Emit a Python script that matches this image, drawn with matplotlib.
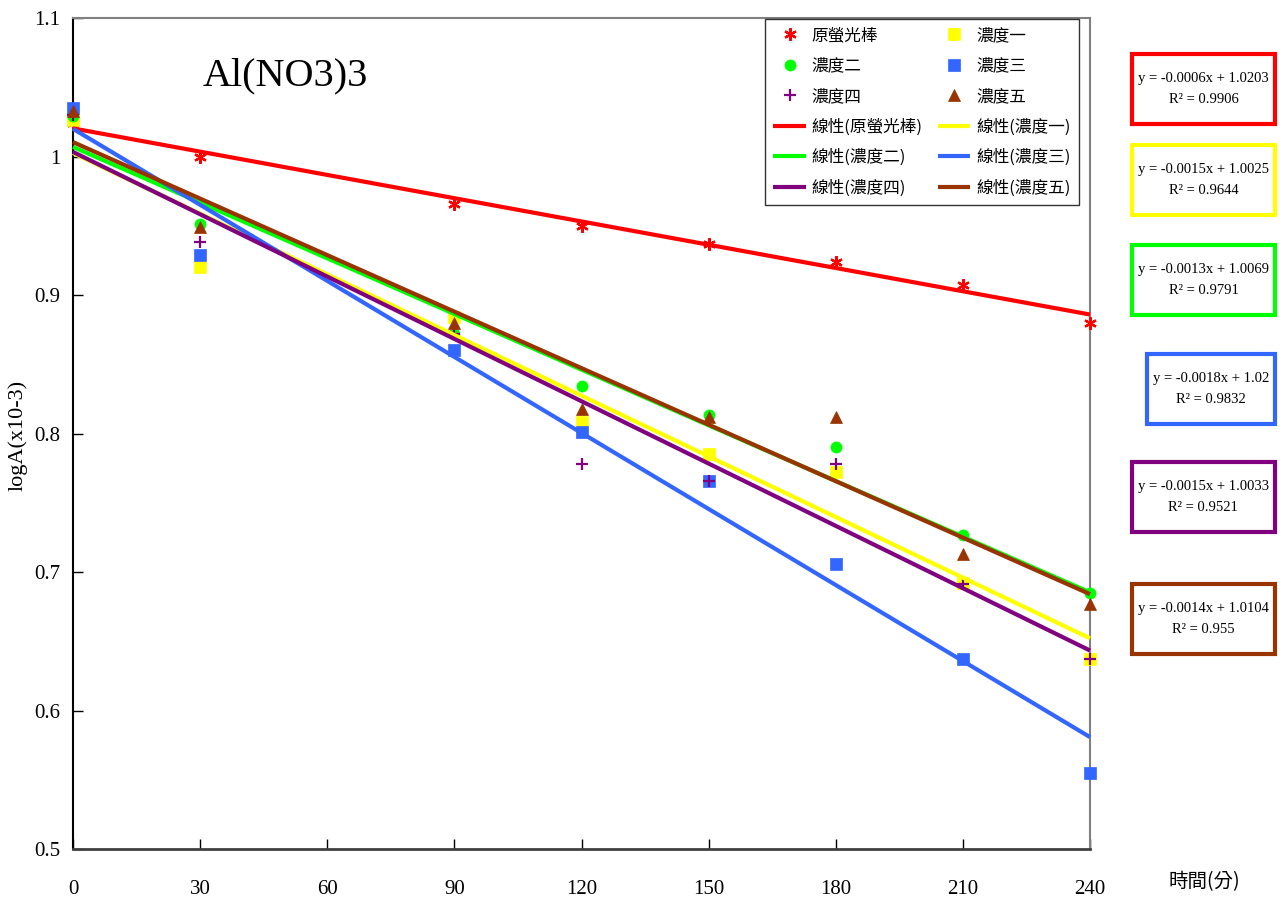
import matplotlib
matplotlib.use("Agg")
import matplotlib.pyplot as plt
from matplotlib.patches import Rectangle
from matplotlib.ticker import FuncFormatter

# Sampling times (minutes)
minutes = [0, 30, 90, 120, 150, 180, 210, 240]

# logA readings for each sample
orig_stick = [1.024, 1.000, 0.966, 0.950, 0.937, 0.924, 0.907, 0.880]
conc_1 = [1.026, 0.920, 0.884, 0.808, 0.785, 0.772, 0.692, 0.637]
conc_2 = [1.029, 0.951, 0.872, 0.834, 0.813, 0.790, 0.727, 0.685]
conc_3 = [1.035, 0.929, 0.860, 0.801, 0.766, 0.706, 0.637, 0.555]
conc_4 = [1.030, 0.938, 0.872, 0.778, 0.766, 0.778, 0.691, 0.637]
conc_5 = [1.033, 0.949, 0.880, 0.818, 0.812, 0.812, 0.713, 0.677]

series_names = ["原螢光棒", "濃度一", "濃度二", "濃度三", "濃度四", "濃度五"]
series_values = [orig_stick, conc_1, conc_2, conc_3, conc_4, conc_5]
colors = ["#FF0000", "#FFFF00", "#00FF00", "#3366FF", "#800080", "#993300"]
markers = [(6, 2, 0), "s", "o", "s", "+", "^"]
marker_sizes = [9, 8, 8, 8, 9, 8]

# Linear trend lines (slope, intercept, R^2)
slopes = [-0.00056, -0.00146, -0.00134, -0.00183, -0.0015, -0.00136]
intercepts = [1.0203, 1.0025, 1.0069, 1.02, 1.0033, 1.0104]
r_squared = [0.9906, 0.9644, 0.9791, 0.9832, 0.9521, 0.955]

x_ticks = [0, 30, 60, 90, 120, 150, 180, 210, 240]
y_ticks = [0.5, 0.6, 0.7, 0.8, 0.9, 1.0, 1.1]

W, H = 1287, 897
fig = plt.figure(figsize=(W / 100, H / 100), dpi=100)
fig.patch.set_facecolor("white")

L, R, T, B = 73, 1090, 18, 849
ax = fig.add_axes([L / W, 1 - B / H, (R - L) / W, (B - T) / H])

serif = "Liberation Serif"
cjk = ["Noto Sans CJK TC", "DejaVu Sans"]


def fmt(v):
    return f"{v:.4f}".rstrip("0").rstrip(".")


handles = []
for name, vals, c, m, ms in zip(series_names, series_values, colors, markers, marker_sizes):
    mew = 1.6 if m in ("+", (6, 2, 0)) else 0.5
    h, = ax.plot(minutes, vals, linestyle="none", marker=m, markersize=ms,
                 color=c, markeredgecolor=c, markeredgewidth=mew, zorder=3,
                 clip_on=False, label=name)
    handles.append(h)

x0, x1 = minutes[0], minutes[-1]
for name, c, a, b in zip(series_names, colors, slopes, intercepts):
    h, = ax.plot([x0, x1], [a * x0 + b, a * x1 + b], color=c, linewidth=3,
                 solid_capstyle="butt", zorder=4, clip_on=False,
                 label=f"線性({name})")
    handles.append(h)

ax.set_xlim(0, 240)
ax.set_ylim(0.5, 1.1)
ax.set_xticks(x_ticks)
ax.set_yticks(y_ticks)
ax.yaxis.set_major_formatter(FuncFormatter(lambda v, p: f"{v:g}"))
ax.tick_params(axis="both", direction="in", length=7, width=1, colors="black",
               labelsize=15)
ax.tick_params(axis="x", pad=22)
ax.tick_params(axis="y", pad=9)
for lab in ax.get_xticklabels() + ax.get_yticklabels():
    lab.set_fontfamily(serif)

ax.spines["left"].set_color("black")
ax.spines["left"].set_linewidth(1.5)
ax.spines["bottom"].set_color("#404040")
ax.spines["bottom"].set_linewidth(2)
ax.spines["top"].set_color("#808080")
ax.spines["top"].set_linewidth(1.5)
ax.spines["right"].set_color("#808080")
ax.spines["right"].set_linewidth(1.5)

# Legend: rows read left-to-right, so interleave for column filling
order = list(range(0, 12, 2)) + list(range(1, 12, 2))
leg = fig.legend([handles[i] for i in order], [handles[i].get_label() for i in order],
                 loc="upper left", bbox_to_anchor=(765 / W, 1 - 19 / H),
                 ncol=2, frameon=True, fancybox=False, borderaxespad=0,
                 prop={"family": cjk, "size": 12}, handlelength=1.95,
                 handletextpad=0.35, columnspacing=0.9, labelspacing=0.8,
                 borderpad=0.5, numpoints=1)
leg.get_frame().set_edgecolor("black")
leg.get_frame().set_linewidth(1)

# Title and axis labels
fig.text(285 / W, 1 - 76 / H, "Al(NO3)3", family=serif, fontsize=29,
         ha="center", va="center")
fig.text(18 / W, 1 - 435 / H, "logA(x10-3)", family=serif, fontsize=16,
         rotation=90, ha="center", va="center")
fig.text(1204 / W, 1 - 882 / H, "時間(分)", family=cjk, fontsize=14,
         ha="center", va="center")

# Trend line equations, each in a coloured frame
box_centers = [89, 180, 280, 389, 497, 619]
eq_texts = []
for c, a, b, r2, yc in zip(colors, slopes, intercepts, r_squared, box_centers):
    txt = f"y = {fmt(a)}x + {fmt(b)}\nR² = {fmt(r2)}"
    t = fig.text(1269 / W, 1 - yc / H, txt, family=serif, fontsize=10.5,
                 ha="right", va="center", multialignment="center",
                 linespacing=1.75, zorder=5)
    eq_texts.append((t, c, yc))

fig.canvas.draw()
renderer = fig.canvas.get_renderer()
box_h, pad_x = 70, 6
for t, c, yc in eq_texts:
    bb = t.get_window_extent(renderer)
    x_left = bb.x0 - pad_x
    width = bb.width + 2 * pad_x
    y_bottom = H - yc - box_h / 2
    rect = Rectangle((x_left / W, y_bottom / H), width / W, box_h / H,
                     transform=fig.transFigure, facecolor="white",
                     edgecolor=c, linewidth=3, zorder=4)
    fig.add_artist(rect)

fig.savefig("out.png", dpi=100, facecolor="white")
